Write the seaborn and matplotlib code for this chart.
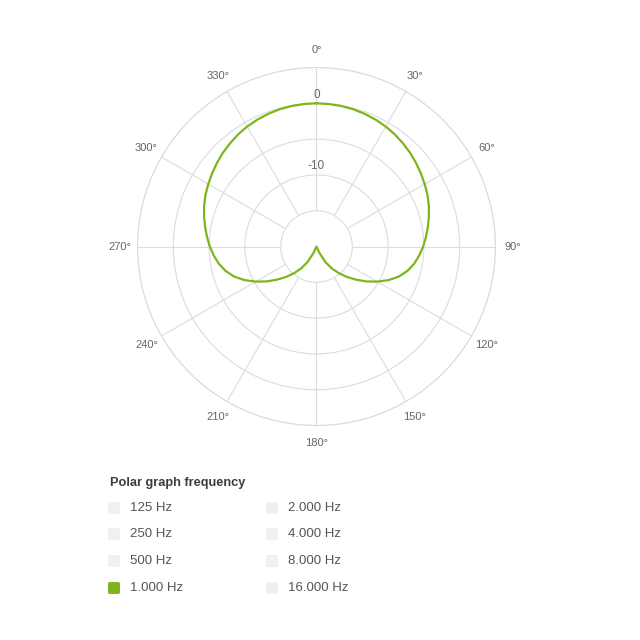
import numpy as np
import pandas as pd
import matplotlib
matplotlib.use("Agg")
import matplotlib.pyplot as plt
from matplotlib.patches import FancyBboxPatch
import seaborn as sns

# polar response at 1.000 Hz (dB, every 5 degrees, 0..360)
angles_deg = list(range(0, 365, 5))
level_db = [
    0.0, -0.02, -0.07, -0.15, -0.28, -0.45, -0.65, -0.9, -1.2, -1.5,
    -1.85, -2.2, -2.55, -2.9, -3.3, -3.75, -4.2, -4.65, -5.1, -5.6,
    -6.15, -6.85, -7.75, -8.9, -10.2, -11.5, -12.8, -14.0, -15.15, -16.25,
    -17.5, -19.0, -20.0, -20.0, -20.0, -20.0, -20.0, -20.0, -20.0, -20.0,
    -20.0, -19.0, -17.5, -16.25, -15.15, -14.0, -12.8, -11.5, -10.2, -8.9,
    -7.75, -6.85, -6.15, -5.6, -5.1, -4.65, -4.2, -3.75, -3.3, -2.9,
    -2.55, -2.2, -1.85, -1.5, -1.2, -0.9, -0.65, -0.45, -0.28, -0.15,
    -0.07, -0.02, 0.0,
]
ring_values = [-15, -10, -5, 0, 5]
ring_labels = ["", "-10", "", "0", ""]
spoke_angles = list(range(0, 360, 30))

freq_col1 = ["125 Hz", "250 Hz", "500 Hz", "1.000 Hz"]
freq_col2 = ["2.000 Hz", "4.000 Hz", "8.000 Hz", "16.000 Hz"]
selected = "1.000 Hz"

green = "#7db51c"
grid_c = "#dcdcdc"
text_c = "#666666"

sns.set_theme(style="white")
plt.rcParams["font.family"] = ["Liberation Sans", "DejaVu Sans"]

df = pd.DataFrame({"theta": np.deg2rad(angles_deg), "db": level_db})

fig = plt.figure(figsize=(6.4, 6.4), dpi=100)
ax = fig.add_axes([0.2148, 0.3351, 0.5594, 0.5594], projection="polar")
ax.set_theta_zero_location("N")
ax.set_theta_direction(-1)
ax.set_ylim(-20, 5)

# rings
ax.set_yticks(ring_values)
ax.set_yticklabels([])
ax.yaxis.grid(True, color=grid_c, lw=0.8)
# spokes start at the first ring
ax.xaxis.grid(False)
ax.vlines(np.deg2rad(spoke_angles), ring_values[0], ring_values[-1], color=grid_c, lw=0.8, zorder=1)
ax.spines["polar"].set_color(grid_c)
ax.spines["polar"].set_linewidth(0.8)

ax.set_xticks(np.deg2rad(spoke_angles))
ax.set_xticklabels([f"{a}°" for a in spoke_angles], color=text_c, fontsize=8)
ax.tick_params(axis="x", pad=-0.5)

for val, lab in zip(ring_values, ring_labels):
    if lab:
        ax.text(0, val + 0.35, lab, ha="center", va="bottom", color=text_c, fontsize=8.5)

sns.lineplot(data=df, x="theta", y="db", sort=False, color=green, lw=1.6, ax=ax, zorder=3)
ax.set_xlabel("")
ax.set_ylabel("")

# frequency selector below the chart
fig.text(110 / 640, 1 - 483 / 640, "Polar graph frequency", fontsize=9.2,
         fontweight="bold", color="#3c3c3c", va="center", ha="left")
row_y = [508, 534, 561, 588]
for col_x, labels in [(108, freq_col1), (266, freq_col2)]:
    for y, lab in zip(row_y, labels):
        fc = green if lab == selected else "#f0f0f0"
        box = FancyBboxPatch((col_x / 640, 1 - (y + 6) / 640), 12 / 640, 12 / 640,
                             boxstyle="round,pad=0,rounding_size=0.003",
                             transform=fig.transFigure, fc=fc, ec="none")
        fig.patches.append(box)
        fig.text((col_x + 22) / 640, 1 - y / 640, lab, fontsize=9.5, color="#555555",
                 va="center", ha="left")

fig.savefig("out.png", dpi=100, facecolor="white")
